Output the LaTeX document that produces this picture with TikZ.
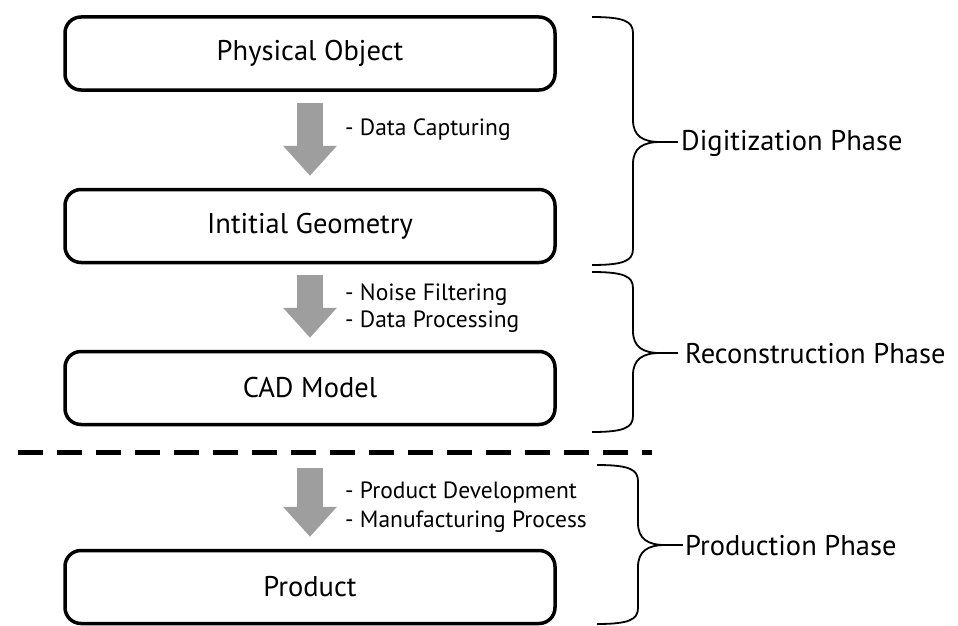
\documentclass[tikz,border=0pt]{standalone}
\usepackage{fontspec}
\setmainfont{PT Sans}
\usetikzlibrary{arrows.meta}
\begin{document}
\begin{tikzpicture}[x=1pt,y=-1pt,
  stage/.style={draw=black,line width=3.5pt,rounded corners=16pt,minimum width=490pt,minimum height=73pt,inner sep=0pt,font=\fontsize{28.5}{32}\selectfont},
  flow/.style={draw=black!38,line width=26pt,-{Triangle[width=52pt,length=30pt]},shorten <=11pt,shorten >=12pt},
  steplabel/.style={anchor=west,inner sep=0pt,font=\fontsize{23.5}{27}\selectfont},
  phase/.style={anchor=west,inner sep=0pt,font=\fontsize{28.5}{32}\selectfont},
  bracepath/.style={draw=black,line width=1.8pt}]
\useasboundingbox (0,0) rectangle (958,626);
\fill[white] (0,0) rectangle (958,626);
\node[stage] (b1) at (310,53.5) {Physical Object};
\node[stage] (b2) at (310,226) {Intitial Geometry};
\node[stage] (b3) at (310,388) {CAD Model};
\node[stage] (b4) at (310,587) {Product};
\draw[flow] (b1.south) -- (b2.north);
\draw[flow] (b2.south) -- (b3.north);
\coordinate (d1) at (18,452);
\coordinate (d2) at (652,452);
\draw[black,line width=5pt,dash pattern=on 25pt off 14pt] (d1) -- (d2);
\coordinate (a4) at (310,456);
\draw[flow,shorten <=12pt] (a4) -- (b4.north);
\node[steplabel] (l1) at (345,130) {- Data Capturing};
\node[steplabel] (l2) at (345,295) {- Noise Filtering};
\node[steplabel] (l3) at (345,322) {- Data Processing};
\node[steplabel] (l4) at (345,493) {- Product Development};
\node[steplabel] (l5) at (345,522) {- Manufacturing Process};
% braces
\foreach \t/\b/\m/\xv in {17/265/142/633, 272/432/353/633, 465/624/545/638}{
  \draw[bracepath] (\xv-41,\t) .. controls (\xv-10,\t) and (\xv,\t+4) .. (\xv,\t+16)
     -- (\xv,\m-22) .. controls (\xv,\m-6) and (\xv+10,\m) .. (\xv+27,\m)
     .. controls (\xv+10,\m) and (\xv,\m+6) .. (\xv,\m+22)
     -- (\xv,\b-16) .. controls (\xv,\b-4) and (\xv-10,\b) .. (\xv-41,\b);
  \draw[bracepath] (\xv+27,\m) -- (\xv+45,\m);
}
\node[phase] (p1) at (681,143) {Digitization Phase};
\node[phase] (p2) at (685,354) {Reconstruction Phase};
\node[phase] (p3) at (685,546) {Production Phase};
\end{tikzpicture}
\end{document}
